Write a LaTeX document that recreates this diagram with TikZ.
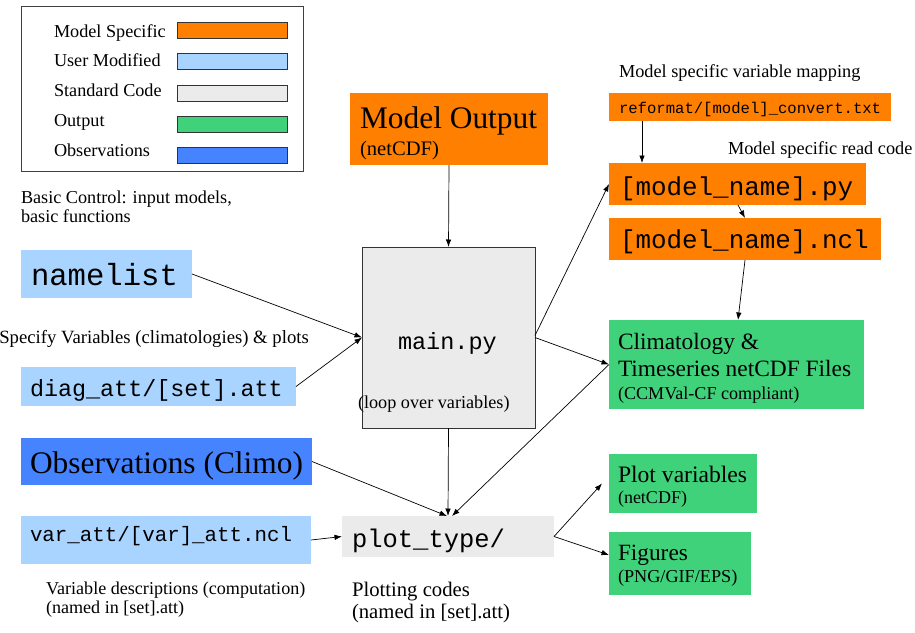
\documentclass[tikz,border=0pt]{standalone}
\usepackage{fontspec}
\setmainfont{Liberation Serif}
\setmonofont{Liberation Mono}
\usetikzlibrary{arrows.meta}
\definecolor{orangeC}{RGB}{255,128,0}
\definecolor{lblueC}{RGB}{168,212,255}
\definecolor{grayC}{RGB}{235,235,235}
\definecolor{greenC}{RGB}{64,210,122}
\definecolor{blueC}{RGB}{70,132,255}
\newcommand{\myfs}[1]{\fontsize{#1}{#1}\selectfont}
\begin{document}
\begin{tikzpicture}[x=1pt,y=-1pt,
  box/.style={rectangle, draw=none, inner sep=0pt, outer sep=0pt, anchor=north west},
  swatch/.style={box, draw=black!80, line width=0.7pt, minimum width=110, minimum height=16},
  lbl/.style={anchor=base west, inner sep=0pt, outer sep=0pt},
  arr/.style={-{Latex[length=7.5pt,width=5.5pt]}, line width=0.7pt, black}]
\useasboundingbox (0,0) rectangle (915,632);
\fill[white] (0,0) rectangle (915,632);

% legend
\node[box, draw=black!75, line width=0.8pt, minimum width=282, minimum height=165] (legend) at (21,6) {};
\node[swatch, fill=orangeC] (swMS) at (177,22) {};
\node[swatch, fill=lblueC] (swUM) at (177,53) {};
\node[swatch, fill=grayC] (swSC) at (177,85) {};
\node[swatch, fill=greenC] (swOU) at (177,116) {};
\node[swatch, fill=blueC] (swOB) at (177,147) {};
\node[lbl, font=\myfs{18.2}] (tMS) at (54,37) {Model Specific};
\node[lbl, font=\myfs{18.2}] (tUM) at (54,66.5) {User Modified};
\node[lbl, font=\myfs{18.2}] (tSC) at (54,96) {Standard Code};
\node[lbl, font=\myfs{18.2}] (tOU) at (54,126) {Output};
\node[lbl, font=\myfs{18.2}] (tOB) at (54,156) {Observations};

\node[lbl, font=\myfs{18.2}] (bc1) at (21,203) {Basic Control: input models,};
\node[lbl, font=\myfs{18.2}] (bc2) at (21,222) {basic functions};

% left column
\node[box, fill=lblueC, minimum width=171, minimum height=48] (namelist) at (21,250) {};
\node[lbl, font=\ttfamily\myfs{30.6}] (namelistT) at (31,285) {namelist};
\node[anchor=base east, inner sep=0pt, font=\myfs{18.7}] (specify) at (309,343) {Specify Variables (climatologies) \& plots};
\node[box, fill=lblueC, minimum width=275, minimum height=39] (diag) at (21,367) {};
\node[lbl, font=\ttfamily\myfs{23.4}] (diagT) at (30,396) {diag\_att/[set].att};
\node[box, fill=blueC, minimum width=291, minimum height=47] (obs) at (21,438) {};
\node[lbl, font=\myfs{31.4}] (obsT) at (30,473) {Observations (Climo)};
\node[box, fill=lblueC, minimum width=290, minimum height=48] (varatt) at (21,516) {};
\node[lbl, font=\ttfamily\myfs{20.8}] (varattT) at (30,541) {var\_att/[var]\_att.ncl};
\node[lbl, font=\myfs{18.1}] (vd1) at (46,594) {Variable descriptions (computation)};
\node[lbl, font=\myfs{18.1}] (vd2) at (46,613) {(named in [set].att)};

% centre column
\node[box, fill=orangeC, minimum width=198, minimum height=72] (modelout) at (350,93) {};
\node[lbl, font=\myfs{31.4}] (modeloutT) at (360,128) {Model Output};
\node[lbl, font=\myfs{20.6}] (modeloutS) at (360,155) {(netCDF)};
\node[box, fill=grayC, draw=black!80, line width=0.8pt, minimum width=173, minimum height=181] (mainpy) at (362,247) {};
\node[lbl, font=\ttfamily\myfs{23.5}] (mainpyT) at (398,349) {main.py};
\node[lbl, font=\myfs{18.2}] (loopT) at (358,408) {(loop over variables)};
\node[box, fill=grayC, minimum width=212, minimum height=41] (plottype) at (342,516) {};
\node[lbl, font=\ttfamily\myfs{25.5}] (plottypeT) at (352,547) {plot\_type/};
\node[lbl, font=\myfs{20.7}] (pc1) at (352,596) {Plotting codes};
\node[lbl, font=\myfs{20.7}] (pc2) at (352,618) {(named in [set].att)};

% right column
\node[lbl, font=\myfs{18.3}] (mapT) at (619,77) {Model specific variable mapping};
\node[box, fill=orangeC, minimum width=282, minimum height=28] (reformat) at (609,93) {};
\node[lbl, font=\ttfamily\myfs{15.6}] (reformatT) at (619,113) {reformat/[model]\_convert.txt};
\node[lbl, font=\myfs{18.3}] (readT) at (728,154) {Model specific read code};
\node[box, fill=orangeC, minimum width=257, minimum height=42] (modelpy) at (609,163) {};
\node[lbl, font=\ttfamily\myfs{25.9}] (modelpyT) at (620,195) {[model\_name].py};
\node[box, fill=orangeC, minimum width=272, minimum height=42] (ncl) at (609,218) {};
\node[lbl, font=\ttfamily\myfs{25.9}] (nclT) at (620,248) {[model\_name].ncl};
\node[box, fill=greenC, minimum width=255, minimum height=89] (clim) at (609,320) {};
\node[lbl, font=\myfs{23.4}] (clim1) at (618,349) {Climatology \&};
\node[lbl, font=\myfs{23.4}] (clim2) at (618,376) {Timeseries netCDF Files};
\node[lbl, font=\myfs{18.1}] (clim3) at (618,399) {(CCMVal-CF compliant)};
\node[box, fill=greenC, minimum width=148, minimum height=59] (plotvar) at (609,454) {};
\node[lbl, font=\myfs{23.6}] (pv1) at (618,482) {Plot variables};
\node[lbl, font=\myfs{18}] (pv2) at (618,503) {(netCDF)};
\node[box, fill=greenC, minimum width=142, minimum height=63] (figures) at (609,532) {};
\node[lbl, font=\myfs{23.3}] (fg1) at (618,560) {Figures};
\node[lbl, font=\myfs{18.2}] (fg2) at (618,582) {(PNG/GIF/EPS)};

% connectors
\draw[arr] (modelout.south) -- (mainpy.north);
\draw[arr] (namelist.east) -- (mainpy.west);
\draw[arr] (diag.east) -- (mainpy.west);
\draw[arr] (mainpy.south) -- (plottype.north);
\draw[arr] (obs.east) -- ([xshift=-1]plottype.north);
\draw[arr] (clim.west) -- ([xshift=4]plottype.north);
\draw[arr] (varatt.east) -- (plottype.west);
\draw[arr] (mainpy.east) -- (clim.west);
\draw[arr] ([yshift=2]mainpy.east) -- (modelpy.west);
\draw[arr] ([xshift=33]reformat.south west) -- ([xshift=33]modelpy.north west);
\draw[arr] ([xshift=129]modelpy.south west) -- ([xshift=136]ncl.north west);
\draw[arr] (ncl.south) -- ([xshift=1.5]clim.north);
\draw[arr] (plottype.east) -- ([xshift=-7]plotvar.west);
\draw[arr] (plottype.east) -- ([yshift=8.5]figures.west);
\end{tikzpicture}
\end{document}
